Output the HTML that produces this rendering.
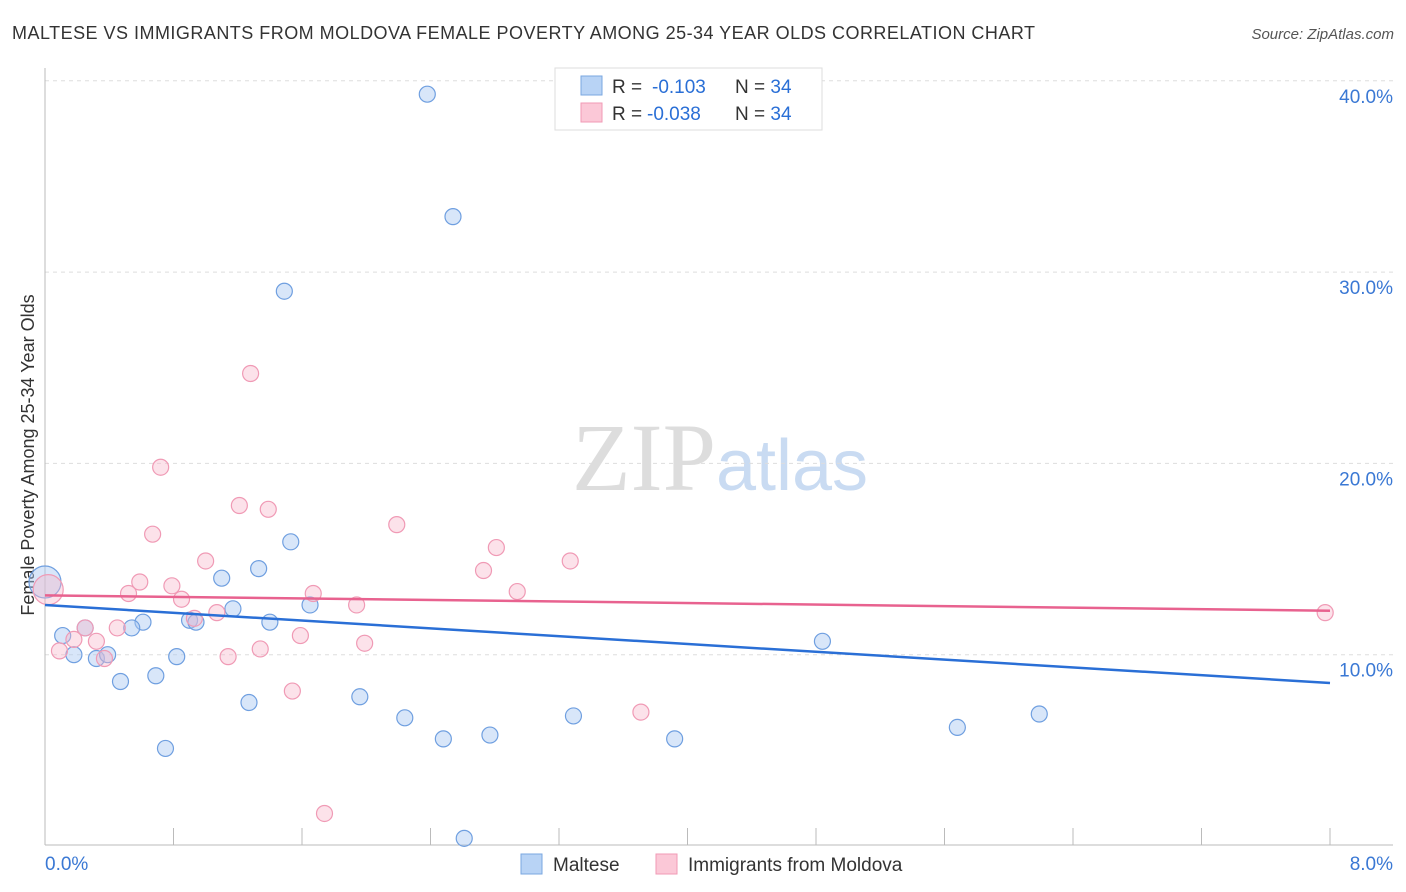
<!DOCTYPE html>
<html><head><meta charset="utf-8"><style>
body{margin:0;background:#fff;font-family:"Liberation Sans",sans-serif;}
svg{display:block}
</style></head><body>
<svg id="chart" width="1406" height="892">
<text x="12" y="39" font-size="18" fill="#333" textLength="1023">MALTESE VS IMMIGRANTS FROM MOLDOVA FEMALE POVERTY AMONG 25-34 YEAR OLDS CORRELATION CHART</text>
<text x="1394" y="39" font-size="15" fill="#555" text-anchor="end" font-style="italic">Source: ZipAtlas.com</text>
<text x="720" y="490" font-size="96" fill="#ddd" text-anchor="middle" font-family="Liberation Serif,serif">ZIP<tspan fill="#c9dbf2" font-family="Liberation Sans,sans-serif" font-size="72">atlas</tspan></text>
<text transform="translate(34,455) rotate(-90)" font-size="18" fill="#333" text-anchor="middle">Female Poverty Among 25-34 Year Olds</text>
<g id="grid"></g><g id="axes"></g><g id="marks"></g>
<g>
<rect x="555" y="68" width="267" height="62" fill="#fff" stroke="#ddd"/>
<rect x="581" y="76" width="21" height="19" fill="#b8d3f5" stroke="#7aa7e0"/>
<rect x="581" y="103" width="21" height="19" fill="#fbc8d7" stroke="#f09ab5"/>
<text x="612" y="93" font-size="19" fill="#333">R = <tspan fill="#2a6fd6" x="652">-0.103</tspan><tspan x="735" fill="#333">N = </tspan><tspan fill="#2a6fd6">34</tspan></text>
<text x="612" y="120" font-size="19" fill="#333">R = <tspan fill="#2a6fd6" x="647">-0.038</tspan><tspan x="735" fill="#333">N = </tspan><tspan fill="#2a6fd6">34</tspan></text>
</g>
<g>
<rect x="521" y="854" width="21" height="20" fill="#b8d3f5" stroke="#7aa7e0"/>
<text x="553" y="871" font-size="19" fill="#333">Maltese</text>
<rect x="656" y="854" width="21" height="20" fill="#fbc8d7" stroke="#f09ab5"/>
<text x="688" y="871" font-size="19" fill="#333">Immigrants from Moldova</text>
</g>
</svg>
<script>
const blueX=[2.38,2.54,1.49,1.53,1.33,1.10,1.65,1.17,0.61,0.90,0.94,1.40,0.54,0.25,0.11,0.18,0.32,0.39,0.82,0.47,0.69,1.27,1.96,2.24,0.75,2.48,2.77,3.29,3.92,4.84,5.68,6.19,2.61,0.0];
const blueY=[39.3,32.9,29.0,15.9,14.5,14.0,12.6,12.4,11.7,11.8,11.7,11.7,11.4,11.4,11.0,10.0,9.8,10.0,9.9,8.6,8.9,7.5,7.8,6.7,5.1,5.6,5.8,6.8,5.6,10.7,6.2,6.9,0.4,13.8];
const blueR=[8,8,8,8,8,8,8,8,8,8,8,8,8,8,8,8,8,8,8,8,8,8,8,8,8,8,8,8,8,8,8,8,8,16];
const pinkX=[1.28,0.72,1.21,1.39,0.67,2.19,1.00,2.81,3.27,2.73,0.59,0.79,0.52,0.85,1.67,2.94,1.07,1.94,0.93,0.45,0.25,0.18,0.32,0.09,1.59,1.99,1.14,1.34,0.37,1.54,3.71,1.74,7.97,0.02];
const pinkY=[24.7,19.8,17.8,17.6,16.3,16.8,14.9,15.6,14.9,14.4,13.8,13.6,13.2,12.9,13.2,13.3,12.2,12.6,11.9,11.4,11.4,10.8,10.7,10.2,11.0,10.6,9.9,10.3,9.8,8.1,7.0,1.7,12.2,13.4];
const pinkR=[8,8,8,8,8,8,8,8,8,8,8,8,8,8,8,8,8,8,8,8,8,8,8,8,8,8,8,8,8,8,8,8,8,15];
const trendBlue=[12.6,8.52];
const trendPink=[13.1,12.3];
const yTicks=[10,20,30,40];
const xTickLabels=["0.0%","8.0%"];
const NS="http://www.w3.org/2000/svg";
const X=v=>45+v/8*1285;
const Y=v=>846-v*19.13;
function mk(tag,attrs,parent){const e=document.createElementNS(NS,tag);for(const k in attrs)e.setAttribute(k,attrs[k]);document.getElementById(parent).appendChild(e);return e;}
yTicks.forEach(t=>{
 const l=mk('line',{x1:45,x2:1393,y1:Y(t),y2:Y(t),stroke:'#ddd','stroke-dasharray':'4,4'},'grid');
 
 
 const tx=mk('text',{x:1393,y:Y(t)+22,'font-size':19,fill:'#3a78d4','text-anchor':'end'},'grid');
 tx.textContent=t.toFixed(1)+'%';
 
 
});
const ax=mk('line',{x1:45,x2:1393,y1:845,y2:845,stroke:'#bbb'},'axes');


const ay=mk('line',{x1:45,x2:45,y1:68,y2:845,stroke:'#bbb'},'axes');


for(let i=0;i<=10;i++){
 const t=mk('line',{x1:X(i*0.8),x2:X(i*0.8),y1:828,y2:845,stroke:'#bbb'},'axes');
 
 
}
[[0,'start',45],[8,'end',1393]].forEach((d,i)=>{
 const t=mk('text',{x:d[2],y:870,'font-size':19,fill:'#3a78d4','text-anchor':d[1]},'axes');
 t.textContent=xTickLabels[i];
 
 
});
blueX.forEach((v,i)=>{
 const c=mk('circle',{cx:X(v),cy:Y(blueY[i]),r:blueR[i],fill:'rgba(168,200,242,0.45)',stroke:'#6f9fe0','stroke-width':1.2},'marks');
 
 
});
pinkX.forEach((v,i)=>{
 const c=mk('circle',{cx:X(v),cy:Y(pinkY[i]),r:pinkR[i],fill:'rgba(248,182,202,0.4)',stroke:'#f09ab5','stroke-width':1.2},'marks');
 
 
});
const lb=mk('line',{x1:X(0),y1:Y(trendBlue[0]),x2:X(8),y2:Y(trendBlue[1]),stroke:'#2a6fd6','stroke-width':2.5},'marks');


const lp=mk('line',{x1:X(0),y1:Y(trendPink[0]),x2:X(8),y2:Y(trendPink[1]),stroke:'#e8628f','stroke-width':2.5},'marks');


</script>
</body></html>
